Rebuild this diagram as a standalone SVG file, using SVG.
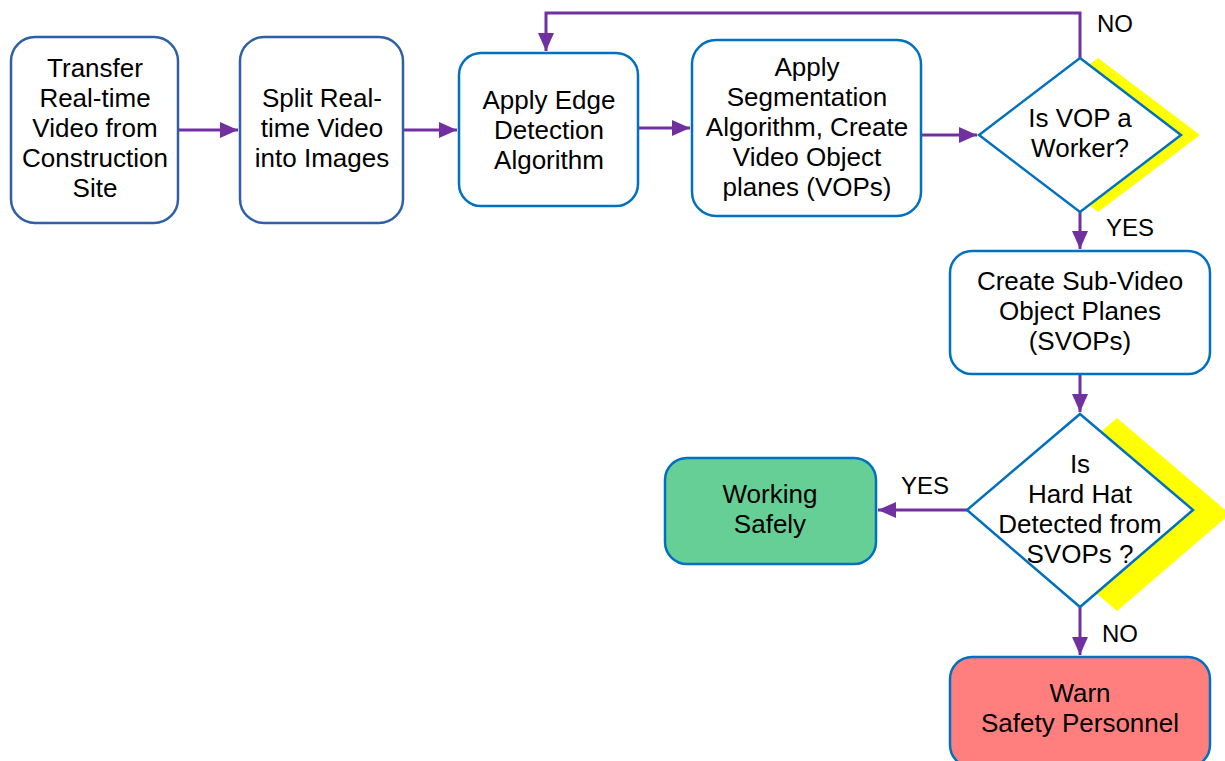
<svg xmlns="http://www.w3.org/2000/svg" width="1225" height="761" viewBox="0 0 1225 761">
<defs>
<style>
.box{fill:#fff;stroke:#0070C0;stroke-width:2.5}
.box2{fill:#fff;stroke:#2F5FA8;stroke-width:2.5}
.t{font-family:"Liberation Sans",Arial,sans-serif;font-size:26px;fill:#000;text-anchor:middle}
.lbl{font-family:"Liberation Sans",Arial,sans-serif;font-size:24px;fill:#000}
.c{fill:none;stroke:#7030A0;stroke-width:3}
.shadow{fill:#FFFF00}
</style>
<marker id="ah" markerUnits="userSpaceOnUse" markerWidth="20" markerHeight="18" refX="18" refY="8" orient="auto">
<path d="M0,0 L18,8 L0,16 Z" fill="#7030A0"/>
</marker>
</defs>
<rect width="1225" height="761" fill="#fff"/>

<g id="connectors">
<path class="c" d="M172,130 H238" marker-end="url(#ah)"/>
<path class="c" d="M403,130 H457" marker-end="url(#ah)"/>
<path class="c" d="M638,128 H690" marker-end="url(#ah)"/>
<path class="c" d="M921,135 H977" marker-end="url(#ah)"/>
<path class="c" d="M1080,58 V13 H546 V51" marker-end="url(#ah)"/>
<path class="c" d="M1080,212 V249" marker-end="url(#ah)"/>
<path class="c" d="M1080,374 V412" marker-end="url(#ah)"/>
<path class="c" d="M967,510 H878" marker-end="url(#ah)"/>
<path class="c" d="M1080,607 V655" marker-end="url(#ah)"/>
<text class="lbl" x="1097" y="32">NO</text>
<text class="lbl" x="1106" y="236">YES</text>
<text class="lbl" x="901" y="494">YES</text>
<text class="lbl" x="1102" y="642">NO</text>
</g>

<g id="n1">
<rect class="box2" x="11" y="37" width="167" height="186" rx="24"/>
<text class="t" x="95" y="77">Transfer</text>
<text class="t" x="95" y="107">Real-time</text>
<text class="t" x="95" y="137">Video from</text>
<text class="t" x="95" y="167">Construction</text>
<text class="t" x="95" y="197">Site</text>
</g>

<g id="n2">
<rect class="box2" x="240" y="37" width="163" height="186" rx="24"/>
<text class="t" x="322" y="107">Split Real-</text>
<text class="t" x="322" y="137">time Video</text>
<text class="t" x="322" y="167">into Images</text>
</g>

<g id="n3">
<rect class="box" x="459" y="53" width="179" height="153" rx="22"/>
<text class="t" x="549" y="109">Apply Edge</text>
<text class="t" x="549" y="139">Detection</text>
<text class="t" x="549" y="169">Algorithm</text>
</g>

<g id="n4">
<rect class="box" x="692" y="40" width="229" height="176" rx="24"/>
<text class="t" x="807" y="76">Apply</text>
<text class="t" x="807" y="106">Segmentation</text>
<text class="t" x="807" y="136">Algorithm, Create</text>
<text class="t" x="807" y="166">Video Object</text>
<text class="t" x="807" y="196">planes (VOPs)</text>
</g>

<g id="d1">
<polygon class="shadow" points="1098,58 1200,135 1098,212 996,135"/>
<polyline points="1104,66 1190,133 1104,203" fill="none" stroke="#fff" stroke-width="1" stroke-dasharray="1,4" opacity="0.8"/>
<polygon class="box" points="1080,58 1181,135 1080,212 979,135"/>
<text class="t" x="1080" y="127">Is VOP a</text>
<text class="t" x="1080" y="157">Worker?</text>
</g>

<g id="n5">
<rect class="box" x="950" y="251" width="260" height="123" rx="22"/>
<text class="t" x="1080" y="290">Create Sub-Video</text>
<text class="t" x="1080" y="320">Object Planes</text>
<text class="t" x="1080" y="350">(SVOPs)</text>
</g>

<g id="d2">
<polygon class="shadow" points="1117,418 1230,514 1117,611 1004,514"/>
<polygon class="box" points="1080,414 1193,510 1080,607 967,510"/>
<text class="t" x="1080" y="473">Is</text>
<text class="t" x="1080" y="503">Hard Hat</text>
<text class="t" x="1080" y="533">Detected from</text>
<text class="t" x="1080" y="563">SVOPs ?</text>
</g>

<g id="n6">
<rect class="box" x="665" y="458" width="211" height="106" rx="22" style="fill:#66CF96"/>
<text class="t" x="770" y="503">Working</text>
<text class="t" x="770" y="533">Safely</text>
</g>

<g id="n7">
<rect class="box" x="950" y="657" width="260" height="110" rx="22" style="fill:#FF7F7F"/>
<text class="t" x="1080" y="702">Warn</text>
<text class="t" x="1080" y="732">Safety Personnel</text>
</g>
</svg>
